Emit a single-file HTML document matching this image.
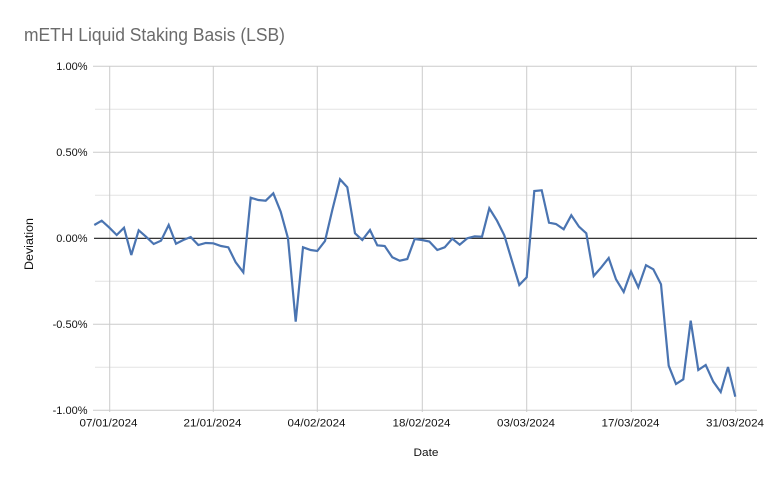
<!DOCTYPE html>
<html>
<head>
<meta charset="utf-8">
<style>
  html, body { margin: 0; padding: 0; background: #ffffff; }
  svg { display: block; }
  text { font-family: "Liberation Sans", "DejaVu Sans", sans-serif; }
</style>
</head>
<body>
<svg width="782" height="483" viewBox="0 0 782 483" xmlns="http://www.w3.org/2000/svg">
  <rect x="0" y="0" width="782" height="483" fill="#ffffff"/>

  <!-- Title -->
  <text x="24" y="41" font-size="18" fill="#6b6b6b" textLength="261" lengthAdjust="spacingAndGlyphs">mETH Liquid Staking Basis (LSB)</text>

  <!-- minor horizontal gridlines -->
  <g stroke="#e3e3e3" stroke-width="1">
    <line x1="95" y1="109.3" x2="757" y2="109.3"/>
    <line x1="95" y1="195.3" x2="757" y2="195.3"/>
    <line x1="95" y1="281.3" x2="757" y2="281.3"/>
    <line x1="95" y1="367.3" x2="757" y2="367.3"/>
  </g>
  <!-- major horizontal gridlines -->
  <g stroke="#cbcbcb" stroke-width="1">
    <line x1="93" y1="66.3" x2="757" y2="66.3"/>
    <line x1="93" y1="152.3" x2="757" y2="152.3"/>
    <line x1="93" y1="324.3" x2="757" y2="324.3"/>
    <line x1="93" y1="410.3" x2="757" y2="410.3"/>
  </g>
  <!-- vertical gridlines -->
  <g stroke="#cbcbcb" stroke-width="1">
    <line x1="109.7" y1="66" x2="109.7" y2="412"/>
    <line x1="213.3" y1="66" x2="213.3" y2="412"/>
    <line x1="317.3" y1="66" x2="317.3" y2="412"/>
    <line x1="422.3" y1="66" x2="422.3" y2="412"/>
    <line x1="526.7" y1="66" x2="526.7" y2="412"/>
    <line x1="631.3" y1="66" x2="631.3" y2="412"/>
    <line x1="735.7" y1="66" x2="735.7" y2="412"/>
  </g>
  <!-- zero line -->
  <line x1="94" y1="238.3" x2="757" y2="238.3" stroke="#1a1a1a" stroke-width="1.2"/>

  <!-- Y labels -->
  <g font-size="11" fill="#111" text-anchor="end">
    <text x="87.5" y="70">1.00%</text>
    <text x="87.5" y="156">0.50%</text>
    <text x="87.5" y="242">0.00%</text>
    <text x="87.5" y="328">-0.50%</text>
    <text x="87.5" y="414">-1.00%</text>
  </g>

  <!-- X labels -->
  <g font-size="11" fill="#111" text-anchor="middle">
    <text x="108.5" y="426.5" textLength="58" lengthAdjust="spacingAndGlyphs">07/01/2024</text>
    <text x="212.5" y="426.5" textLength="58" lengthAdjust="spacingAndGlyphs">21/01/2024</text>
    <text x="316.5" y="426.5" textLength="58" lengthAdjust="spacingAndGlyphs">04/02/2024</text>
    <text x="421.5" y="426.5" textLength="58" lengthAdjust="spacingAndGlyphs">18/02/2024</text>
    <text x="526" y="426.5" textLength="58" lengthAdjust="spacingAndGlyphs">03/03/2024</text>
    <text x="630.5" y="426.5" textLength="58" lengthAdjust="spacingAndGlyphs">17/03/2024</text>
    <text x="735" y="426.5" textLength="58" lengthAdjust="spacingAndGlyphs">31/03/2024</text>
  </g>

  <!-- Axis titles -->
  <text x="413.5" y="456" font-size="11" fill="#111" textLength="25" lengthAdjust="spacingAndGlyphs">Date</text>
  <text transform="translate(33,270) rotate(-90)" font-size="11.5" fill="#111" textLength="52" lengthAdjust="spacingAndGlyphs">Deviation</text>

  <!-- Series -->
  <polyline fill="none" stroke="#4a74b1" stroke-width="2.2" stroke-linejoin="miter" stroke-miterlimit="3" points="
94.3,225 101.7,220.7 109,227.3 116.7,235 124,227.7 131.3,255 138.7,230.3 146,236.7 153.7,244 161,240.7
168.7,225 176,243.7 183.3,240 190.7,237 198.3,245 205.7,243 213.3,243.3 221,246 228.3,247.3 235.7,262.3
243.3,272.3 250.7,197.7 258.3,200 265.7,200.7 273.3,193.3 280.7,211.7 288,238.3 295.7,321.7 303,247.3 310.7,250
317.3,251 325,241 332.3,210 340,179.3 347.3,187.3 355,233.3 362.3,240 370,230 377.3,245.3 384.7,246
392.3,257.3 399.7,260.7 407.3,259 414.7,239 422,240 429.3,241.5 437.3,250 444.7,247.3 452.3,238.7 459.7,244.7
467.3,238.3 474.7,236.3 482,236.7 489.3,208.3 497,220.7 504.3,235.3 511.7,260 519.3,285 526.7,277.3 534.3,191
541.7,190.3 549,222.7 556,224 563.7,229.3 571.3,215.3 579,226.7 586.3,233.3 593.7,276 601.3,267.3 608.7,258
616,279.3 623.7,292 631,271.5 638.3,287.3 646,265.2 653.3,269.3 661,284.3 668.7,365.7 676,384 683.3,379.3
690.7,320.7 698.3,370 705.7,365 713.3,381.7 720.7,392 728,367 735.3,396.7"/>
</svg>
</body>
</html>
